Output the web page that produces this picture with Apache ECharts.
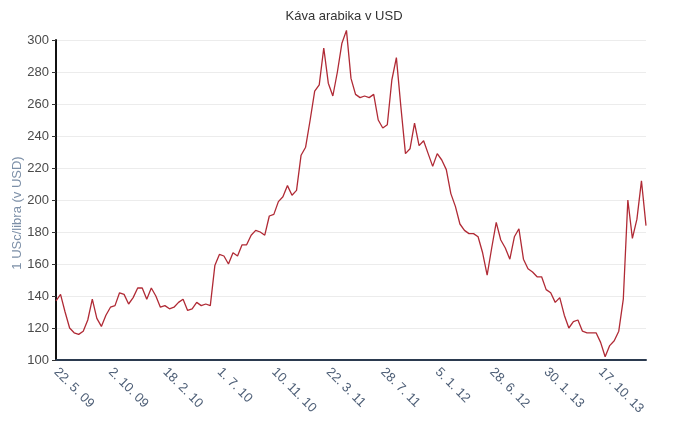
<!DOCTYPE html>
<html>
<head>
<meta charset="utf-8">
<script src="https://cdn.jsdelivr.net/npm/echarts@6/dist/echarts.min.js"></script>
<style>
html,body{margin:0;padding:0;background:#fff;}
#chart{width:688px;height:437px;}
</style>
</head>
<body>
<div id="chart"></div>
<script>
var titleText = 'Káva arabika v USD';
var yAxisName = '1 USc/libra (v USD)';
var tickLabels = ['22. 5. 09','2. 10. 09','18. 2. 10','1. 7. 10','10. 11. 10','22. 3. 11','28. 7. 11','5. 1. 12','28. 6. 12','30. 1. 13','17. 10. 13'];
var pointsPerTick = 12;
var prices = [
137,141,130,120,117,116,118,125,138,126,
121,128,133,134,142,141,135,139,145,145,
138,145,140,133,134,132,133,136,138,131,
132,136,134,135,134,159,166,165,160,167,
165,172,172,178,181,180,178,190,191,199,
202,209,203,206,228,233,250,268,272,295,
273,265,280,298,306,276,266,264,265,264,
266,250,245,247,275,289,258,229,232,248,
234,237,229,221,229,225,219,204,196,185,
181,179,179,177,167,153,170,186,175,170,
163,177,182,163,157,155,152,152,144,142,
136,139,128,120,124,125,118,117,117,117,
111,102,109,112,118,138,200,176,188,212,
184
];
var categories = prices.map(function(_, i){ return String(i); });

var chart = echarts.init(document.getElementById('chart'));
chart.setOption({
  animation: false,
  backgroundColor: '#ffffff',
  title: {
    text: titleText,
    left: 'center',
    top: 5,
    textStyle: {fontFamily: 'Liberation Sans, Arial, sans-serif', fontSize: 13, fontWeight: 'normal', color: '#333'}
  },
  grid: {left: 56, right: 42, top: 40, bottom: 77, containLabel: false, outerBoundsMode: 'none'},
  xAxis: {
    type: 'category',
    data: categories,
    boundaryGap: false,
    axisLine: {lineStyle: {color: '#2b3a4f', width: 2}},
    axisTick: {show: false},
    splitLine: {show: false},
    axisLabel: {
      interval: pointsPerTick - 1,
      rotate: -45,
      margin: 10,
      fontFamily: 'Liberation Sans, Arial, sans-serif',
      fontSize: 13,
      color: '#4e5f77',
      formatter: function(v, idx){ return tickLabels[idx / pointsPerTick] || ''; }
    }
  },
  yAxis: {
    type: 'value',
    min: 100,
    max: 300,
    interval: 20,
    name: yAxisName,
    nameLocation: 'middle',
    nameGap: 32,
    nameMoveOverlap: false,
    nameTextStyle: {fontFamily: 'Liberation Sans, Arial, sans-serif', fontSize: 13, color: '#7d90a8', padding: [0, 26, 0, 0]},
    axisLine: {show: true, lineStyle: {color: '#111', width: 2}},
    axisTick: {show: true, length: 4, lineStyle: {color: '#333'}},
    axisLabel: {fontFamily: 'Liberation Sans, Arial, sans-serif', fontSize: 13, color: '#4a4a4a', margin: 7},
    splitLine: {show: true, lineStyle: {color: '#ececec', width: 1}}
  },
  series: [{
    type: 'line',
    data: prices,
    clip: false,
    symbol: 'none',
    lineStyle: {color: '#b02a35', width: 1.3}
  }]
});
</script>
</body>
</html>
